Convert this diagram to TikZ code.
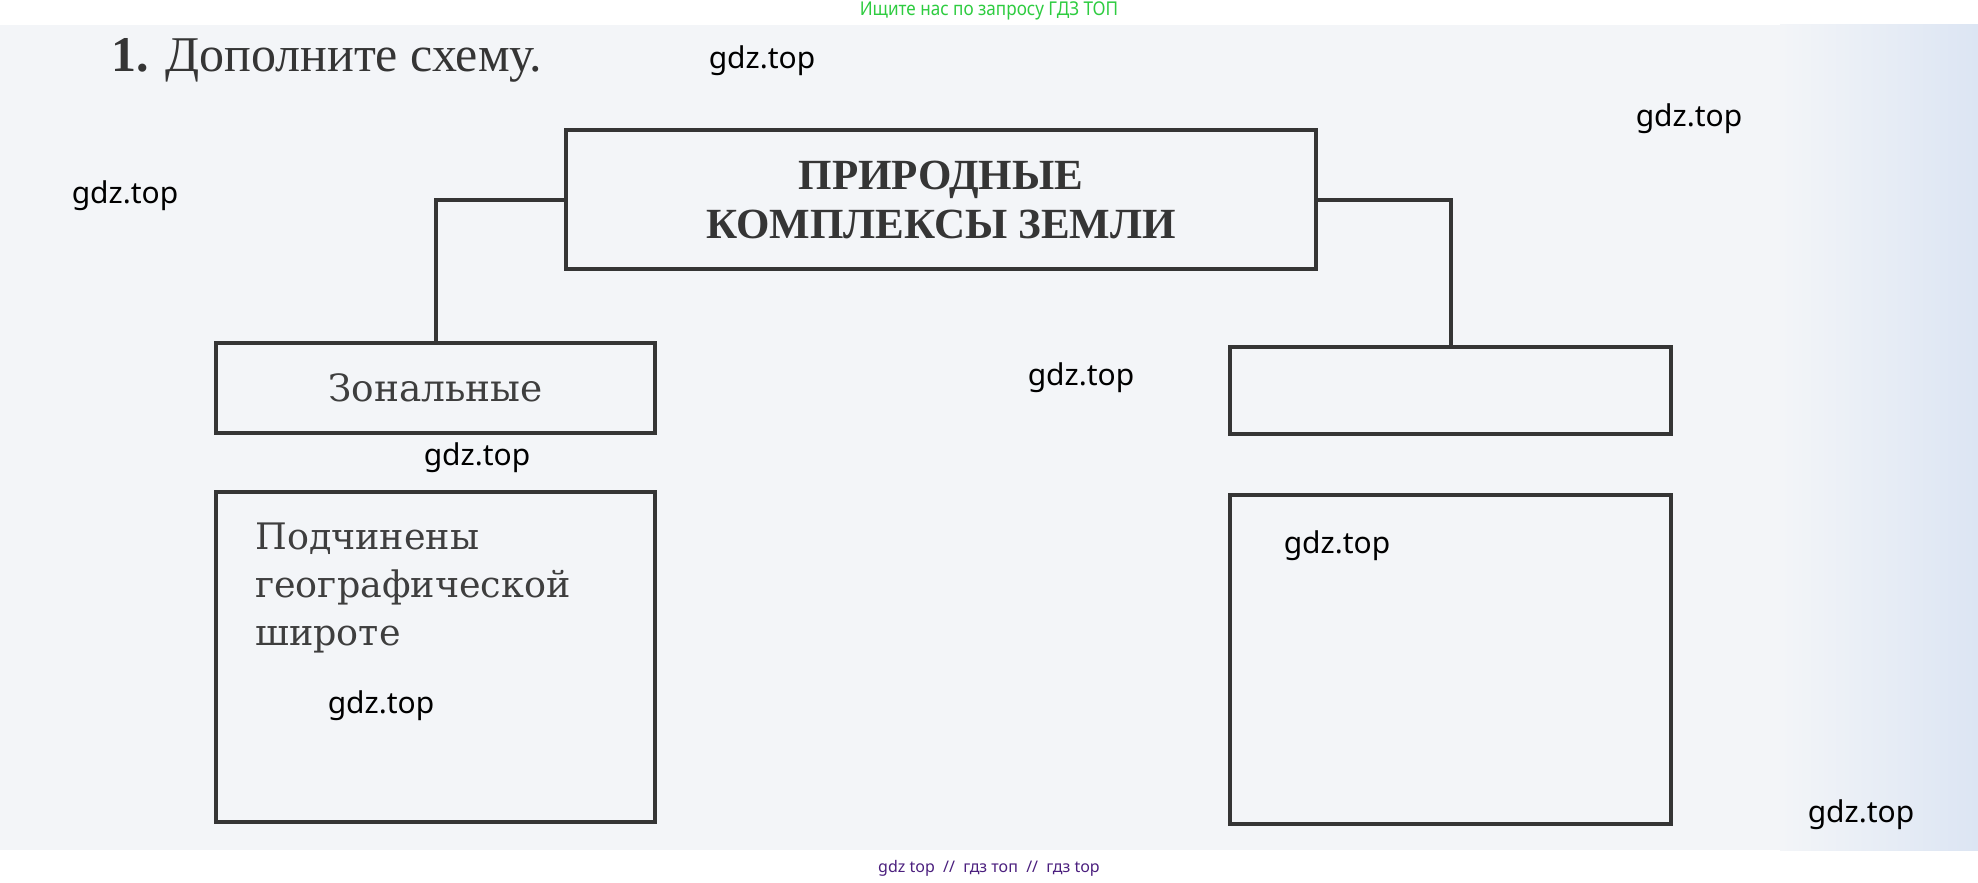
\documentclass[tikz,border=0pt]{standalone}
\usepackage{fontspec}
\setmainfont{DejaVu Serif}
\newfontfamily\titlefont{Liberation Serif}
\newfontfamily\markfont{Noto Sans}
\definecolor{scan}{HTML}{F3F5F8}
\definecolor{scanblue}{HTML}{DCE5F3}
\definecolor{ink}{HTML}{353535}
\definecolor{textink}{HTML}{3E3E3E}
\definecolor{topgreen}{HTML}{2ECC40}
\definecolor{botviolet}{HTML}{4B1F7E}

\begin{document}
\begin{tikzpicture}[x=1pt, y=-1pt,
  frame/.style={draw=ink, line width=4pt, inner sep=0pt, text=textink},
  link/.style={draw=ink, line width=4pt},
  wmark/.style={font=\markfont\fontsize{30}{30}\selectfont, text=black, inner sep=0pt}]
\useasboundingbox (0,0) rectangle (1978,883);
 \fill[white] (0,0) rectangle (1978,883);
 \fill[scan] (0,25) rectangle (1978,850);
 \shade[left color=scan, right color=scanblue] (1780,25) rectangle (1978,850);

\node[font=\markfont\fontsize{19}{19}\selectfont, text=topgreen] (poisk) at (989,11) {\scalebox{.9}[1]{Ищите нас по запросу ГДЗ ТОП}};
\node[font=\titlefont\fontsize{50}{50}\selectfont, text=ink, anchor=base west, inner sep=0pt] (zadanie) at (111,72) {\textbf{1.} Дополните схему.};

% schema
\node[frame, minimum width=750pt, minimum height=139pt, align=center, text=ink,
  font=\titlefont\bfseries\fontsize{43}{49}\selectfont] (kompleksy) at (941,199.5) {ПРИРОДНЫЕ\\КОМПЛЕКСЫ ЗЕМЛИ};
\node[frame, minimum width=439pt, minimum height=90pt, font=\fontsize{37.5}{37.5}\selectfont] (zonal) at (435.5,388) {Зональные};
\node[frame, minimum width=441pt, minimum height=87pt] (azonal) at (1450.5,390.5) {};
\node[frame, minimum width=439pt, minimum height=330pt] (zonalnote) at (435.5,657) {};
\node[frame, minimum width=441pt, minimum height=329pt] (azonalnote) at (1450.5,659.5) {};
\node[anchor=north west, inner sep=0pt, align=left, text=textink, font=\fontsize{36.5}{48}\selectfont] (shirota) at (255,523) {Подчинены\\географической\\широте};

\draw[link] (kompleksy.west) -| (zonal.north);
\draw[link] (kompleksy.east) -| (azonal.north);

% watermarks
\foreach \x/\y [count=\i] in {762/61, 1689/119, 125/196, 1081/378, 477/458, 1337/546, 381/706, 1861/815}
  \node[wmark] (gdz\i) at (\x,\y) {gdz.top};
\node[font=\markfont\fontsize{16}{16}\selectfont, text=botviolet] (podpis) at (989,868) {gdz top \ // \ гдз топ \ // \ гдз top};
\end{tikzpicture}
\end{document}
